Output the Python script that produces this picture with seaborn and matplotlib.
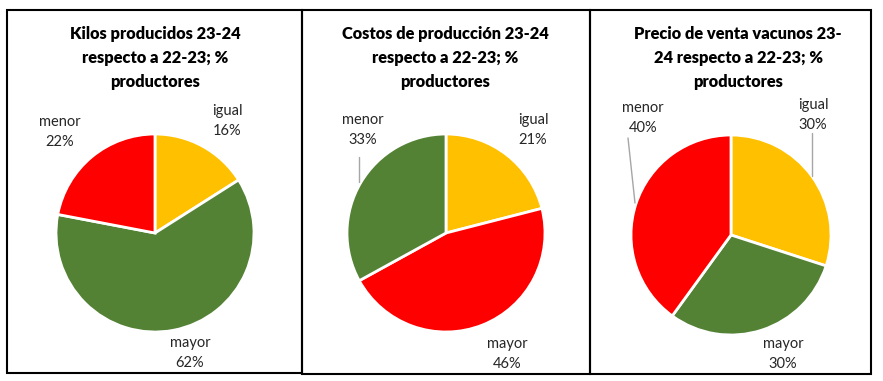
import matplotlib
matplotlib.use("Agg")
import matplotlib.pyplot as plt
import seaborn as sns
from matplotlib.patches import Rectangle
from matplotlib.lines import Line2D

sns.set_theme(style="white")
plt.rcParams['font.family'] = ['Lato', 'DejaVu Sans']

# ---- data ----
categories = ["igual", "mayor", "menor"]
kilos_values = [16, 62, 22]
costos_values = [21, 46, 33]
precio_values = [30, 30, 40]
titles = [
    "Kilos producidos 23-24\nrespecto a 22-23; %\nproductores",
    "Costos de producción 23-24\nrespecto a 22-23; %\nproductores",
    "Precio de venta vacunos 23-\n24 respecto a 22-23; %\nproductores",
]

YELLOW, GREEN, RED = "#FFC000", "#548235", "#FF0000"
color_sets = [
    [YELLOW, GREEN, RED],
    [YELLOW, RED, GREEN],
    [YELLOW, GREEN, RED],
]

W, H = 883, 381
fig = plt.figure(figsize=(W / 100, H / 100), dpi=100)
fig.patch.set_facecolor("white")

def fx(px):
    return px / W

def fy(py):
    return 1 - py / H

# layout (pixels)
panels = [(7, 10, 302, 373), (302, 10, 590, 374), (590, 10, 871, 374)]
centers = [(155, 233, 99), (446, 233, 99), (731, 235, 100)]
title_x = [155, 445, 738]
label_pos = [
    {"igual": (227, 121), "mayor": (190, 353), "menor": (60, 132)},
    {"igual": (533, 130), "mayor": (507, 354), "menor": (363, 130)},
    {"igual": (813, 115), "mayor": (783, 354), "menor": (643, 118)},
]
leaders = [
    [],
    [((359, 157), (359, 182))],
    [((628, 138), (635, 203)), ((812, 133), (812, 176))],
]

all_values = [kilos_values, costos_values, precio_values]

for i in range(3):
    x0, y0, x1, y1 = panels[i]
    fig.patches.append(Rectangle((fx(x0), fy(y1)), fx(x1 - x0), (y1 - y0) / H,
                                 transform=fig.transFigure, fill=False,
                                 edgecolor="black", linewidth=1.5))
    cx, cy, r = centers[i]
    ax = fig.add_axes([fx(cx - r), fy(cy + r), fx(2 * r), 2 * r / H])
    vals = all_values[i]
    ax.pie(vals, colors=color_sets[i], startangle=90, counterclock=False,
           radius=1, wedgeprops=dict(edgecolor="white", linewidth=2))
    ax.set_xlim(-1, 1)
    ax.set_ylim(-1, 1)
    ax.set_aspect("equal")
    ax.axis("off")

    fig.text(fx(title_x[i]), fy(58), titles[i], ha="center", va="center",
             fontsize=11.8, fontweight="heavy", color="black", linespacing=1.6)

    for cat, v in zip(categories, vals):
        px, py = label_pos[i][cat]
        fig.text(fx(px), fy(py), f"{cat}\n{v}%", ha="center", va="center",
                 fontsize=10.5, color="#262626", linespacing=1.5)

    for (a, b) in leaders[i]:
        fig.lines.append(Line2D([fx(a[0]), fx(b[0])], [fy(a[1]), fy(b[1])],
                                transform=fig.transFigure, color="#A6A6A6",
                                linewidth=1))

fig.savefig("out.png", dpi=100, facecolor="white")
